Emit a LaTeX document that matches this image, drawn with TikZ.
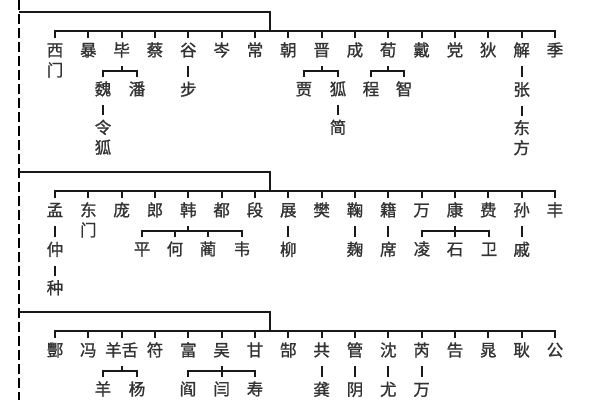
\documentclass[tikz,border=0pt]{standalone}
\usepackage{fontspec}
\usetikzlibrary{positioning}
\newfontfamily\cjk[FakeBold=1.2]{Noto Sans CJK SC}
\tikzset{
	every surname/.style={
		anchor=north,
		font=\cjk\fontsize{16.5}{20}\selectfont,
		text=black!80,
		inner xsep=1pt,
		inner ysep=7pt,
		text height=11pt,
		text depth=3pt,
		align=center
	},
	two lines/.style={
		text height=31pt
	},
	row1 1/.style={two lines},
	row2 2/.style={two lines},
	branch/.style={
		line width=2pt,
		draw=black!90
	},
	trunk/.style={
		line width=2pt,
		dash pattern=on 10pt off 4pt
	},
}

\begin{document}
\begin{tikzpicture}[x=1pt, y=-1pt]
\useasboundingbox (0,0) rectangle (600,400);

% dashed trunk on the left
\draw [trunk] (19,0) -- (19,400);

\foreach \t [count=\g] in {11.7,172,312} {
	\coordinate (left-\g) at (19,\t);
	\coordinate (hub-\g) at (270,\t+19);
}

% first generation
\foreach \n [count=\i] in {西\\门, 暴, 毕, 蔡, 谷, 岑, 常, 朝, 晋, 成, 荀, 戴, 党, 狄, 解, 季}
	\node [every surname, row1 \i/.try] (row1-\i) at ({55+(\i-1)*33.33},38) {\n};

\foreach \n [count=\i] in {孟, 东\\门, 庞, 郎, 韩, 都, 段, 展, 樊, 鞠, 籍, 万, 康, 费, 孙, 丰}
	\node [every surname, row2 \i/.try] (row2-\i) at ({55+(\i-1)*33.33},198) {\n};

\foreach \n [count=\i] in {酆, 冯, 羊舌, 符, 富, 吴, 甘, 郜, 共, 管, 沈, 芮, 告, 晁, 耿, 公}
	\node [every surname] (row3-\i) at ({55+(\i-1)*33.33},338) {\n};

% branches in forks
\node [every surname] (row1-3-a) at (103,77) {魏};
\node [every surname] (row1-3-b) at (137,77) {潘};
\node [every surname, two lines, below=10pt of row1-3-a] (row1-3-a-a) {令\\狐};
\node [every surname] (row1-9-a) at (304,77) {贾};
\node [every surname] (row1-9-b) at (338,77) {狐};
\node [every surname, below=10pt of row1-9-b] (row1-9-b-a) {简};
\node [every surname] (row1-11-a) at (371,77) {程};
\node [every surname] (row1-11-b) at (404,77) {智};

\foreach \n/\x [count=\i] in {平/142, 何/175, 蔺/208, 韦/242}
	\node [every surname] (row2-5-\i) at (\x,237) {\n};
\foreach \n/\x [count=\i] in {凌/422, 石/455, 卫/489}
	\node [every surname] (row2-13-\i) at (\x,237) {\n};

\node [every surname] (row3-3-a) at (103,377) {羊};
\node [every surname] (row3-3-b) at (137,377) {杨};
\foreach \n/\x [count=\i] in {阎/188, 闫/221.67, 寿/255}
	\node [every surname] (row3-6-\i) at (\x,377) {\n};

% branches in a line
\node [every surname, below=11pt of row1-5] (row1-5-a) {步};
\node [every surname, below=11pt of row1-15] (row1-15-a) {张};
\node [every surname, two lines, below=10pt of row1-15-a] (row1-15-a-a) {东\\方};
\node [every surname, below=11pt of row2-1] (row2-1-a) {仲};
\node [every surname, below=10pt of row2-1-a] (row2-1-a-a) {种};
\node [every surname, below=11pt of row2-8] (row2-8-a) {柳};
\node [every surname, below=11pt of row2-10] (row2-10-a) {麹};
\node [every surname, below=11pt of row2-11] (row2-11-a) {席};
\node [every surname, below=11pt of row2-15] (row2-15-a) {戚};
\node [every surname, below=11pt of row3-9] (row3-9-a) {龚};
\node [every surname, below=11pt of row3-10] (row3-10-a) {阴};
\node [every surname, below=11pt of row3-11] (row3-11-a) {尤};
\node [every surname, below=11pt of row3-12] (row3-12-a) {万};

% group bars
\foreach \g in {1,2,3} {
	\draw [branch] (left-\g) -| (hub-\g);
	\draw [branch] (row\g-1.north) |- (hub-\g) -| (row\g-16.north);
	\foreach \i in {2,...,15}
		\draw [branch] (row\g-\i.north) -- (row\g-\i.north |- hub-\g);
}

% forks
\foreach \p/\a/\b in {row1-3/row1-3-a/row1-3-b, row1-9/row1-9-a/row1-9-b,
		row1-11/row1-11-a/row1-11-b, row2-5/row2-5-1/row2-5-4,
		row2-13/row2-13-1/row2-13-3, row3-3/row3-3-a/row3-3-b,
		row3-6/row3-6-1/row3-6-3} {
	\coordinate (\p-fork) at ([yshift=-5pt]\p.south);
	\draw [branch] (\p.south) -- (\p-fork);
	\draw [branch] (\a.north) |- (\p-fork) -| (\b.north);
}
\foreach \c/\p in {row2-5-2/row2-5, row2-5-3/row2-5, row2-13-2/row2-13, row3-6-2/row3-6}
	\draw [branch] (\c.north) -- (\c.north |- \p-fork);

% straight lines
\foreach \p/\c in {row1-3-a/row1-3-a-a, row1-5/row1-5-a, row1-9-b/row1-9-b-a,
		row1-15/row1-15-a, row1-15-a/row1-15-a-a, row2-1/row2-1-a,
		row2-1-a/row2-1-a-a, row2-8/row2-8-a, row2-10/row2-10-a,
		row2-11/row2-11-a, row2-15/row2-15-a, row3-9/row3-9-a,
		row3-10/row3-10-a, row3-11/row3-11-a, row3-12/row3-12-a}
	\draw [branch] (\p.south) -- (\c.north);

\end{tikzpicture}
\end{document}
